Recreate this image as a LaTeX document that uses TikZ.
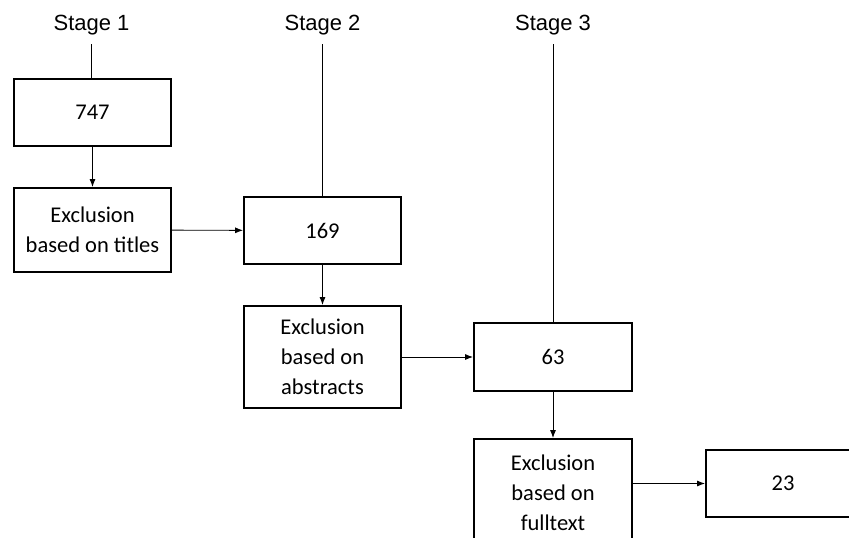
\documentclass[tikz,border=0pt]{standalone}
\usepackage{fontspec}
\setmainfont{Carlito}
\newfontfamily\stagefont{Liberation Sans}
\usetikzlibrary{arrows,arrows.meta}
\usetikzlibrary{calc}

\tikzset{
    countbox/.style={draw, line width=1.8pt, minimum width=157pt, minimum height=67pt,
        inner sep=0pt, align=center, font=\fontsize{22.5}{30}\selectfont},
    stagelabel/.style={font=\stagefont\fontsize{22}{24}\selectfont, inner sep=0pt},
    stageline/.style={line width=0.9pt, shorten <=9pt},
    pfeil/.style={line width=0.9pt, -{Latex[length=8pt,width=6pt]}},
}

\begin{document}
\begin{tikzpicture}[x=1pt, y=-1pt]

    \useasboundingbox (0,0) rectangle (849,538);

    % stages
    \node[stagelabel] (s1) at (91.5,25) {Stage 1};
    \node[stagelabel] (s2) at (322.5,25) {Stage 2};
    \node[stagelabel] (s3) at (553,25) {Stage 3};

    % boxes
    \node[countbox] (n747) at (92.5,112.5) {747};
    \node[countbox, minimum height=84pt] (titles) at (92.5,230) {Exclusion\\based on titles};

    \node[countbox] (n169) at (322.5,230.5) {169};
    \node[countbox, minimum height=102pt] (abstracts) at (322.5,357) {Exclusion\\based on\\abstracts};

    \node[countbox, minimum width=158pt, minimum height=68pt] (n63) at (553,357) {63};
    \node[countbox, minimum width=158pt, minimum height=108pt] (fulltext) at (553,493) {Exclusion\\based on\\fulltext};

    \node[countbox, minimum width=154pt] (n23) at (783,483.5) {23};

    % stage lines
    \draw[stageline] (s1.south) -- (s1.south |- n747.north);
    \draw[stageline] (s2.south) -- (n169.north);
    \draw[stageline] (s3.south) -- (n63.north);

    % arrows
    \draw[pfeil] (n747) -- (titles);
    \draw[pfeil] (titles) -- (n169);
    \draw[pfeil] (n169) -- (abstracts);
    \draw[pfeil] (abstracts) -- (n63);
    \draw[pfeil] (n63) -- (fulltext);
    \draw[pfeil] (fulltext.east |- n23.west) -- (n23.west);

\end{tikzpicture}
\end{document}
